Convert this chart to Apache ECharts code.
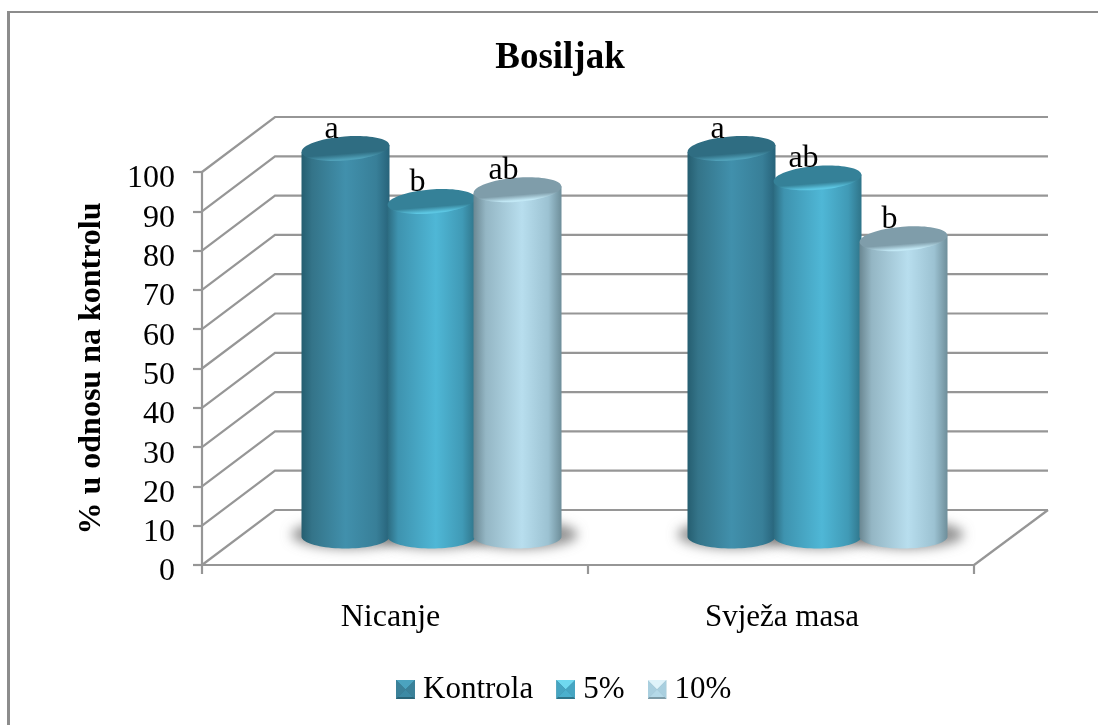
<!DOCTYPE html>
<html>
<head>
<meta charset="utf-8">
<style>html,body{margin:0;padding:0;background:#fff}#c{width:1098px;height:725px}</style>
<script src="https://cdn.jsdelivr.net/npm/echarts@6/dist/echarts.min.js"></script>
</head>
<body>
<div id="c"></div>
<script>
const categories = ['Nicanje', 'Svježa masa'];
const seriesNames = ['Kontrola', '5%', '10%'];
const kontrola = [99, 99];
const pet = [85.5, 91.5];
const deset = [88.5, 76];
const letterKontrola = ['a', 'a'];
const letterPet = ['b', 'ab'];
const letterDeset = ['ab', 'b'];
const yTicks = [0, 10, 20, 30, 40, 50, 60, 70, 80, 90, 100];

const FONT = '"Liberation Serif","Times New Roman",serif';
const DX = 73, DY = 55;          // depth of the 3D box
const GREY = '#969696';

const palette = [
  {side: [[0,'#255e70'],[0.12,'#347489'],[0.5,'#4190ac'],[0.85,'#387f98'],[1,'#27637a']], top: '#2f6d82', rim: '#4fa0b8', sq: ['#2f6d82','#4ba3bf','#3b8199','#2a6477','#3d8aa4']},
  {side: [[0,'#2c6b80'],[0.12,'#3e93af'],[0.55,'#4fb7d6'],[0.85,'#409ab6'],[1,'#2f7489']], top: '#358198', rim: '#5cc6e2', sq: ['#35869e','#6fd8ef','#46a5c2','#2f7489','#4bb0cd']},
  {side: [[0,'#6a8792'],[0.14,'#94b6c4'],[0.55,'#b8deee'],[0.85,'#9cc2d2'],[1,'#6e8e9a']], top: '#7f9daa', rim: '#c2e8f5', sq: ['#93b3c0','#dff3fa','#a9cfdf','#7d9ba7','#b4d9e8']}
];

function hgrad(stops) {
  return {type:'linear',x:0,y:0,x2:1,y2:0,colorStops:stops.map(s=>({offset:s[0],color:s[1]}))};
}
function legendIcon(c) {
  const svg = "<svg xmlns='http://www.w3.org/2000/svg' width='19' height='19'>" +
    "<rect width='19' height='19' fill='" + c[0] + "'/>" +
    "<polygon points='0,0 19,0 9.5,9.5' fill='" + c[1] + "'/>" +
    "<polygon points='0,0 9.5,9.5 0,19' fill='" + c[2] + "'/>" +
    "<polygon points='19,0 9.5,9.5 19,19' fill='" + c[2] + "'/>" +
    "<polygon points='2,17 9.5,9.5 17,17' fill='" + c[4] + "'/>" +
    "<polygon points='0,19 2,17 17,17 19,19' fill='" + c[3] + "'/></svg>";
  return 'image://data:image/svg+xml,' + encodeURIComponent(svg);
}

function renderWall(params, api) {
  const v = api.value(0);
  const p = api.coord([0, v]);
  const cs = params.coordSys;
  const x0 = cs.x, y = p[1], x1 = cs.x + cs.width;
  const children = [{
    type: 'polyline',
    shape: {points: [[x0, y], [x0 + DX, y - DY], [x1 + DX + 1, y - DY]]},
    style: {stroke: GREY, lineWidth: 2.2, fill: null}
  }];
  if (v === 0) {
    children.push({
      type: 'line',
      shape: {x1: x1, y1: y, x2: x1 + DX + 1, y2: y - DY},
      style: {stroke: GREY, lineWidth: 2.2}
    });
  }
  return {type: 'group', children};
}

function makeCylinder(si, letters) {
  return function (params, api) {
    const idx = api.value(0);
    const val = api.value(1);
    const pal = palette[si];
    const front = api.coord([idx, val]);
    const base = api.coord([idx, 0]);
    const cx = front[0] + DX / 2 + (si - 1) * 86;
    const topY = front[1] - DY / 2;
    const baseY = base[1] - DY / 2 - 1;
    const rx = 44, ry = 12, tilt = 3.5;
    const pts = [[cx - rx, topY + tilt], [cx + rx, topY - tilt]];
    for (let i = 0; i <= 40; i++) {
      const a = Math.PI * i / 40;
      pts.push([cx + rx * Math.cos(a), baseY + ry * Math.sin(a)]);
    }
    const z = 10 + si * 5;
    const rot = Math.atan2(tilt, rx);
    const OFF = 3000;   // soft shadow only: the caster sits off the canvas
    return {
      type: 'group',
      children: [
        {type: 'ellipse', z2: 1,
         shape: {cx: cx + 3 - OFF, cy: baseY - 2, rx: rx + 13, ry: ry + 2},
         style: {fill: '#555', shadowBlur: 12, shadowColor: 'rgba(110,110,110,0.75)', shadowOffsetX: OFF}},
        {type: 'polygon', z2: z,
         shape: {points: pts},
         style: {fill: hgrad(pal.side)}},
        {type: 'ellipse', z2: z + 1,
         originX: cx, originY: topY, rotation: rot,
         shape: {cx: cx, cy: topY, rx: rx, ry: ry},
         style: {fill: {type:'linear',x:0,y:0,x2:0,y2:1,colorStops:[
           {offset:0,color:pal.top},{offset:0.72,color:pal.top},{offset:0.95,color:pal.rim},{offset:1,color:pal.rim}]}}},
        {type: 'text', z2: 100,
         style: {text: letters[idx], x: cx - 14, y: topY - 3, align: 'center', verticalAlign: 'bottom',
                 font: '32px ' + FONT, fill: '#000'}}
      ]
    };
  };
}

const wallSeries = {
  type: 'custom', name: 'wall', z: 1, silent: true, clip: false,
  data: yTicks.map(v => [v]),
  encode: {y: 0},
  renderItem: renderWall
};
function cylSeries(si, values, letters) {
  return {
    type: 'custom', name: seriesNames[si], z: 2, clip: false,
    itemStyle: {color: palette[si].side[2][1]},
    data: values.map((v, i) => [i, v]),
    encode: {x: 0, y: 1},
    renderItem: makeCylinder(si, letters)
  };
}

const chart = echarts.init(document.getElementById('c'), null, {renderer: 'canvas'});
chart.setOption({
  animation: false,
  backgroundColor: '#fff',
  textStyle: {fontFamily: FONT},
  title: {
    text: 'Bosiljak', left: 555, top: 35, textAlign: 'center',
    textStyle: {fontFamily: FONT, fontWeight: 'bold', fontSize: 37, color: '#000'}
  },
  legend: {
    left: 391, top: 669, itemWidth: 19, itemHeight: 19, itemGap: 23,
    textStyle: {fontFamily: FONT, fontSize: 31, color: '#000', padding: [0, 0, 0, 3]},
    data: seriesNames.map((n, i) => ({name: n, icon: legendIcon(palette[i].sq)}))
  },
  grid: {left: 202, right: 124, top: 172, bottom: 160},
  xAxis: {
    type: 'category', data: categories, boundaryGap: true,
    axisLine: {show: true, lineStyle: {color: GREY, width: 2.2}},
    axisTick: {show: true, alignWithLabel: false, length: 9, lineStyle: {color: GREY, width: 2.2}},
    axisLabel: {
      margin: 37, fontSize: 32, color: '#000', fontFamily: FONT,
      formatter: (v, i) => '{c' + i + '|' + v + '}',
      rich: {
        c0: {fontSize: 32, fontFamily: FONT, color: '#000', padding: [0, 9, 0, 0]},
        c1: {fontSize: 31, fontFamily: FONT, color: '#000', padding: [0, 0, 0, 2]}
      }
    },
    splitLine: {show: false}
  },
  yAxis: {
    type: 'value', min: 0, max: 100, interval: 10,
    name: '% u odnosu na kontrolu', nameLocation: 'middle', nameGap: 94,
    nameTextStyle: {fontFamily: FONT, fontWeight: 'bold', fontSize: 32, color: '#000'},
    axisLine: {show: true, lineStyle: {color: GREY, width: 2.2}},
    axisTick: {show: true, length: 9, lineStyle: {color: GREY, width: 2.2}},
    axisLabel: {
      margin: 27, fontSize: 32, color: '#000', fontFamily: FONT,
      formatter: v => '{n|' + v + '}',
      rich: {n: {fontSize: 32, fontFamily: FONT, color: '#000', padding: [14, 0, 0, 0]}}
    },
    splitLine: {show: false}
  },
  graphic: [
    {type: 'line', silent: true, shape: {x1: 8.5, y1: 12, x2: 8.5, y2: 725}, style: {stroke: '#8c8c8c', lineWidth: 3}},
    {type: 'line', silent: true, shape: {x1: 7, y1: 12, x2: 1098, y2: 12}, style: {stroke: '#8c8c8c', lineWidth: 2}}
  ],
  series: [
    wallSeries,
    cylSeries(0, kontrola, letterKontrola),
    cylSeries(1, pet, letterPet),
    cylSeries(2, deset, letterDeset)
  ]
});
</script>
</body>
</html>
